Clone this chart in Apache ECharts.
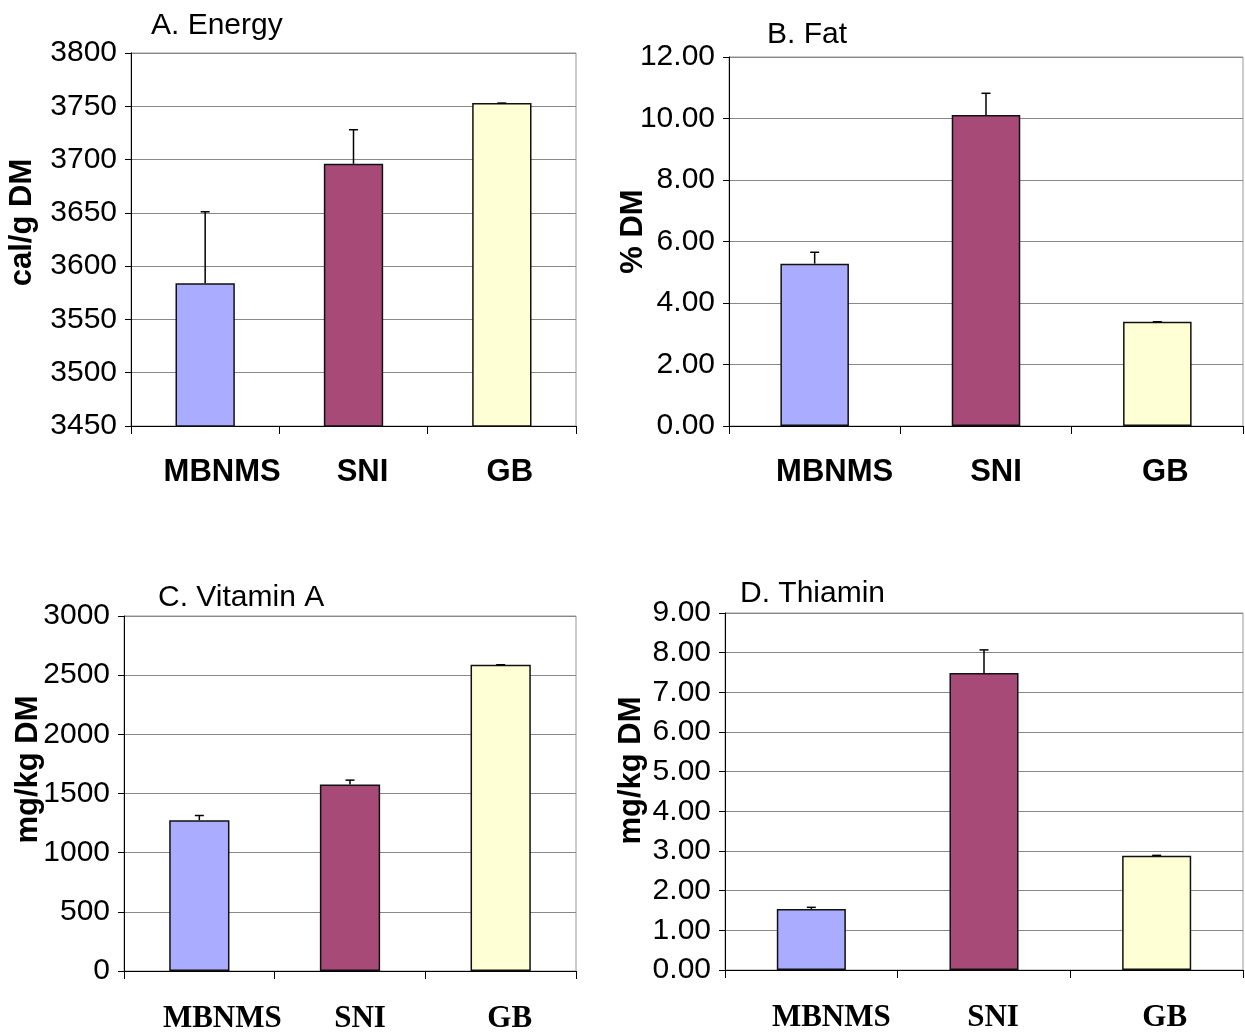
<!DOCTYPE html>
<html>
<head>
<meta charset="utf-8">
<script src="https://cdn.jsdelivr.net/npm/echarts@6/dist/echarts.min.js"></script>
<style>html,body{margin:0;padding:0;background:#fff;}#c{width:1245px;height:1034px;}</style>
</head>
<body>
<div id="c"></div>
<script>
var categories = ['MBNMS', 'SNI', 'GB'];
var barColors = ['#AAACFF', '#A84A78', '#FFFFD5'];

var energyMean = [3584, 3696, 3753];
var energyErr  = [67, 32, 0];
var fatMean = [5.28, 10.11, 3.39];
var fatErr  = [0.37, 0.71, 0];
var vitAMean = [1275, 1576, 2588];
var vitAErr  = [39, 37, 0];
var thiaminMean = [1.54, 7.49, 2.88];
var thiaminErr  = [0.04, 0.58, 0.01];

var panelTitles = ['A. Energy', 'B. Fat', 'C. Vitamin A', 'D. Thiamin'];
var axisNames = ['cal/g DM', '% DM', 'mg/kg DM', 'mg/kg DM'];

var chart = echarts.init(document.getElementById('c'), null, {renderer: 'canvas'});

var sans = 'Liberation Sans, Arial, sans-serif';
var serif = 'Liberation Serif, Times New Roman, serif';

var grids = [
  {left: 131, right: 669, top: 53, bottom: 608},
  {left: 729, right: 2, top: 57, bottom: 608},
  {left: 124, right: 669, top: 616, bottom: 63},
  {left: 725, right: 2, top: 613, bottom: 64}
];
grids.forEach(function (g) { g.show = true; g.borderColor = '#999'; g.borderWidth = 1; g.backgroundColor = '#fff'; });

var yCfg = [
  {min: 3450, max: 3800, interval: 50, fmt: function (v) { return String(v); }, gap: 93, pad: 34},
  {min: 0, max: 12, interval: 2, fmt: function (v) { return v.toFixed(2); }, gap: 80, pad: 20},
  {min: 0, max: 3000, interval: 500, fmt: function (v) { return String(v); }, gap: 80, pad: 48},
  {min: 0, max: 9, interval: 1, fmt: function (v) { return v.toFixed(2); }, gap: 78, pad: 42}
];

var labelShift = [
  [34, 18, 16],
  [40, 20, 16],
  [46, 20, 18],
  [40, 18, 16]
];

var xAxes = grids.map(function (g, i) {
  return {
    type: 'category', gridIndex: i,
    data: categories.map(function (c, k) {
      return {value: c, textStyle: {padding: [0, 0, 0, labelShift[i][k]]}};
    }),
    axisLine: {show: true, lineStyle: {color: '#000', width: 1}},
    axisTick: {show: true, length: 8, lineStyle: {color: '#000'}},
    axisLabel: {
      margin: i < 2 ? 31 : 32, color: '#000', fontSize: 31, fontWeight: 'bold',
      fontFamily: i < 2 ? sans : serif, interval: 0
    },
    splitLine: {show: false}
  };
});

var yAxes = yCfg.map(function (c, i) {
  return {
    type: 'value', gridIndex: i, min: c.min, max: c.max, interval: c.interval,
    name: axisNames[i], nameLocation: 'middle', nameGap: c.gap, nameMoveOverlap: false,
    nameTextStyle: {fontSize: 31, fontWeight: 'bold', color: '#000', fontFamily: sans, padding: [0, 0, 0, c.pad]},
    axisLine: {show: true, lineStyle: {color: '#000', width: 1}},
    axisTick: {show: true, length: 6, lineStyle: {color: '#000'}},
    axisLabel: {margin: 14, color: '#000', fontSize: 30, fontFamily: sans, formatter: c.fmt, padding: [6, 0, 0, 0]},
    splitLine: {show: true, lineStyle: {color: '#888', width: 1}}
  };
});

var means = [energyMean, fatMean, vitAMean, thiaminMean];
var errs = [energyErr, fatErr, vitAErr, thiaminErr];

function errRender(params, api) {
  var x = api.value(0), lo = api.value(1), hi = api.value(2);
  var p0 = api.coord([x, lo]);
  var p1 = api.coord([x, hi]);
  var st = {stroke: '#000', lineWidth: 1.5};
  return {type: 'group', children: [
    {type: 'line', shape: {x1: p0[0], y1: p0[1], x2: p1[0], y2: p1[1]}, style: st},
    {type: 'line', shape: {x1: p1[0] - 4.5, y1: p1[1], x2: p1[0] + 4.5, y2: p1[1]}, style: st}
  ]};
}

var series = [];
means.forEach(function (m, i) {
  series.push({
    type: 'bar', xAxisIndex: i, yAxisIndex: i, barWidth: '40%',
    data: m.map(function (v, k) {
      return {value: v, itemStyle: {color: barColors[k], borderColor: '#111', borderWidth: 1.5}};
    }),
    silent: true, animation: false
  });
  series.push({
    type: 'custom', xAxisIndex: i, yAxisIndex: i, renderItem: errRender,
    data: m.map(function (v, k) { return [k, v, v + errs[i][k]]; }),
    z: 5, silent: true, animation: false
  });
});

var titlePos = [
  {left: 151, top: 11},
  {left: 767, top: 20},
  {left: 158, top: 583},
  {left: 740, top: 579}
];
var titles = titlePos.map(function (p, i) {
  return {text: panelTitles[i], left: p.left, top: p.top, padding: 0,
    textStyle: {fontSize: 30, fontWeight: 'normal', color: '#000', fontFamily: sans}};
});

chart.setOption({
  animation: false,
  backgroundColor: '#fff',
  title: titles,
  grid: grids,
  xAxis: xAxes,
  yAxis: yAxes,
  series: series
});
</script>
</body>
</html>
